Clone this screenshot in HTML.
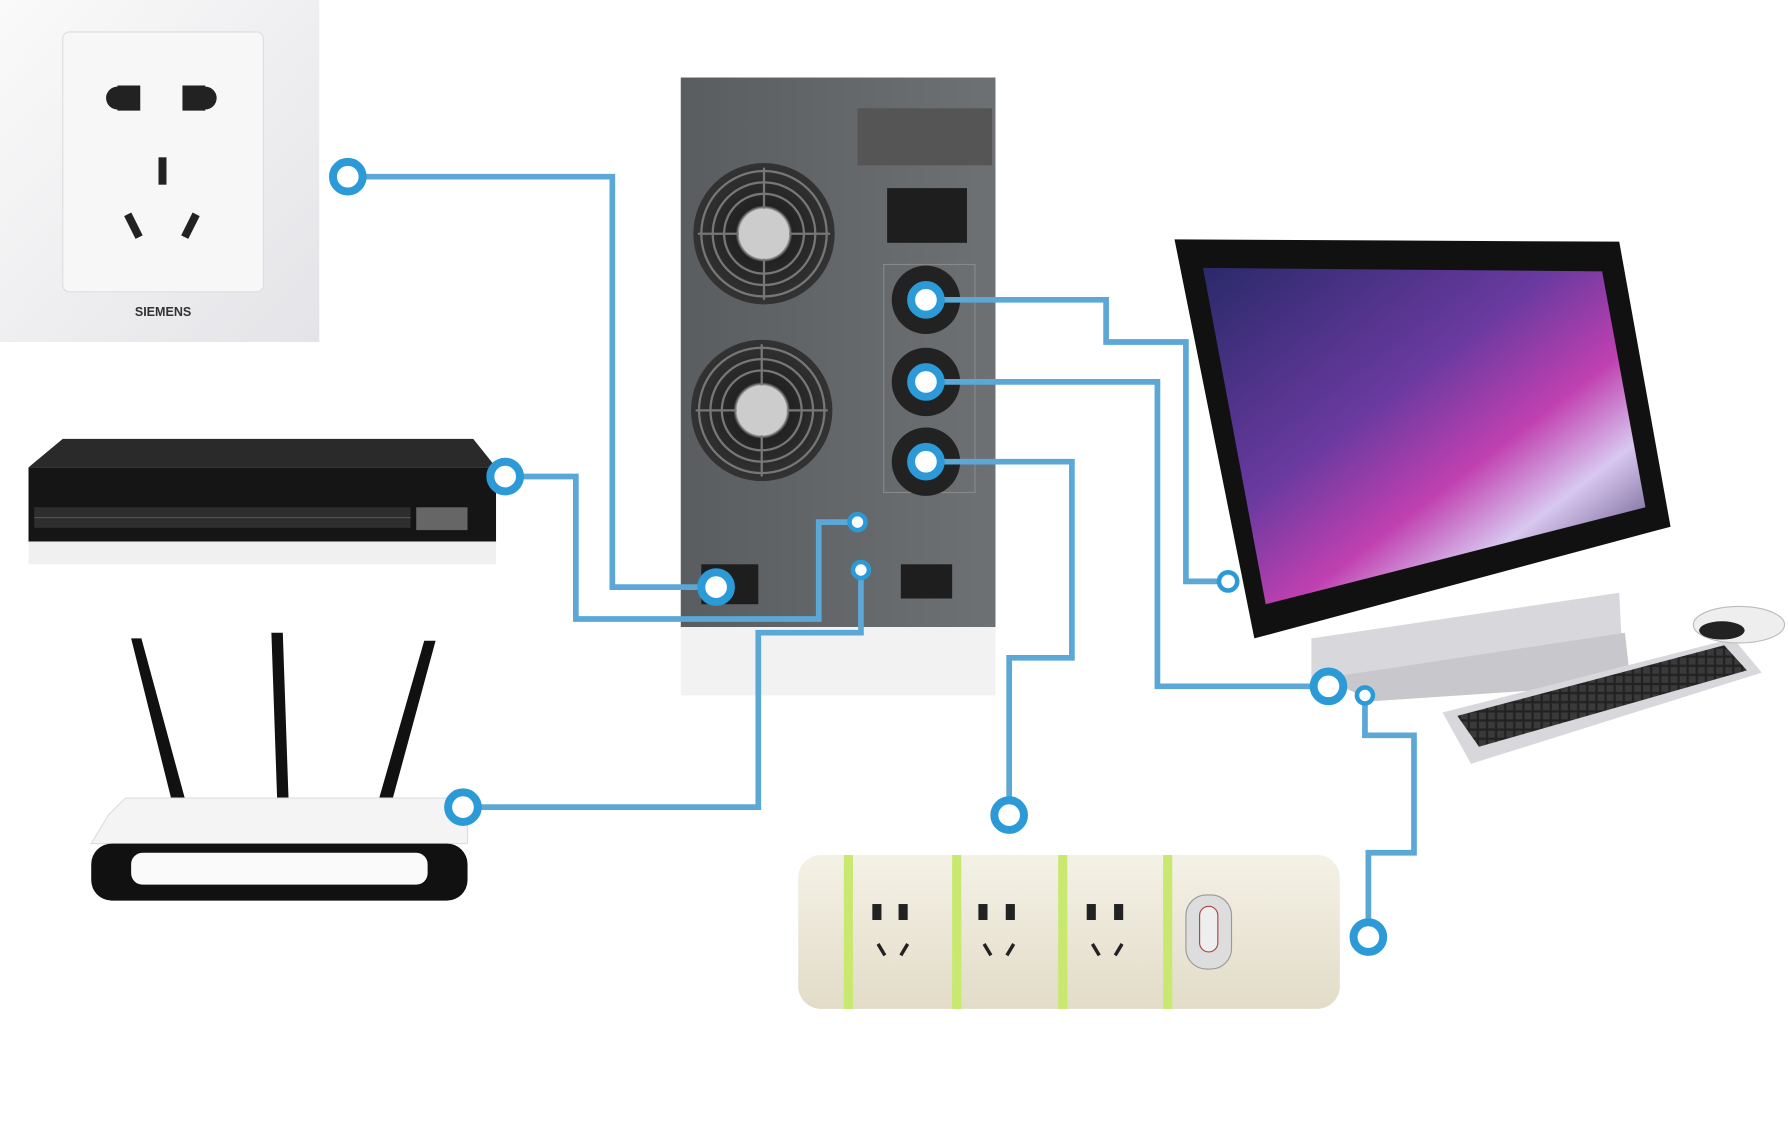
<!DOCTYPE html>
<html><head><meta charset="utf-8"><style>
html,body{margin:0;padding:0;background:#fff;}
svg{display:block}
</style></head><body>
<svg width="1788" height="1148" viewBox="0 0 1568 1007" preserveAspectRatio="none" xmlns="http://www.w3.org/2000/svg">
<defs>
<linearGradient id="plate" x1="0" y1="0" x2="1" y2="1"><stop offset="0" stop-color="#fafafa"/><stop offset="1" stop-color="#e4e4e8"/></linearGradient>
<linearGradient id="scr" x1="0" y1="0" x2="1" y2="1"><stop offset="0" stop-color="#2a2a6a"/><stop offset="0.4" stop-color="#6a3aa0"/><stop offset="0.6" stop-color="#c040b0"/><stop offset="0.75" stop-color="#d8c8f0"/><stop offset="1" stop-color="#2a1a50"/></linearGradient>
<linearGradient id="ups" x1="0" y1="0" x2="1" y2="0"><stop offset="0" stop-color="#5a5d60"/><stop offset="1" stop-color="#6e7174"/></linearGradient>
<linearGradient id="strip" x1="0" y1="0" x2="0" y2="1"><stop offset="0" stop-color="#f4f1e6"/><stop offset="1" stop-color="#e2dcc8"/></linearGradient>
<radialGradient id="fan"><stop offset="0" stop-color="#ddd"/><stop offset="0.35" stop-color="#bbb"/><stop offset="0.4" stop-color="#222"/><stop offset="1" stop-color="#333"/></radialGradient>
<pattern id="keys" width="8" height="8" patternUnits="userSpaceOnUse"><rect width="8" height="8" fill="#222"/><rect x="1" y="1" width="6" height="6" fill="#3a3a3a"/></pattern>
</defs>
<rect x="0" y="0" width="280" height="300" fill="url(#plate)"/>
<rect x="55" y="28" width="176" height="228" rx="6" fill="#f7f7f8" stroke="#ddd"/>
<path d="M103 75h20v22h-20z M160 75h20v22h-20z" fill="#222"/>
<circle cx="103" cy="86" r="10" fill="#222"/><circle cx="180" cy="86" r="10" fill="#222"/>
<rect x="139" y="138" width="7" height="24" fill="#222"/>
<path d="M112 188l10 20M172 188l-10 20" stroke="#222" stroke-width="7"/>
<text x="143" y="277" font-family="Liberation Sans,sans-serif" font-size="11" font-weight="bold" text-anchor="middle" fill="#333">SIEMENS</text>
<path d="M25 410L55 385H415L435 410Z" fill="#2a2a2a"/>
<rect x="25" y="410" width="410" height="65" fill="#151515"/>
<rect x="30" y="445" width="330" height="18" fill="#2e2e2e"/>
<g stroke="#555" stroke-width="1"><path d="M30 454H360"/></g>
<rect x="365" y="445" width="45" height="20" fill="#666"/>
<rect x="25" y="475" width="410" height="20" fill="#f0f0f0"/>
<path d="M115 560l35 140h12l-38-140z M238 555l5 145h10l-5-145z M372 562l-40 140h12l38-140z" fill="#111"/>
<path d="M95 715L110 700H395L410 720V740H80Z" fill="#f4f4f4" stroke="#ddd"/>
<rect x="80" y="740" width="330" height="50" rx="18" fill="#111"/>
<rect x="115" y="748" width="260" height="28" rx="10" fill="#fafafa"/>
<rect x="597" y="68" width="276" height="482" fill="url(#ups)"/>
<rect x="597" y="550" width="276" height="60" fill="#f2f2f2"/>
<rect x="752" y="95" width="118" height="50" fill="#555"/>
<g>
<circle cx="670" cy="205" r="62" fill="url(#fan)"/>
<circle cx="668" cy="360" r="62" fill="url(#fan)"/>
<g fill="none" stroke="#777" stroke-width="2">
<circle cx="670" cy="205" r="55"/><circle cx="670" cy="205" r="45"/><circle cx="670" cy="205" r="35"/>
<circle cx="668" cy="360" r="55"/><circle cx="668" cy="360" r="45"/><circle cx="668" cy="360" r="35"/>
<path d="M612 205H728M670 147V263M610 360H726M668 302V418"/>
</g>
<circle cx="670" cy="205" r="22" fill="#ccc"/><circle cx="668" cy="360" r="22" fill="#ccc"/>
</g>
<rect x="778" y="165" width="70" height="48" fill="#1e1e1e"/>
<rect x="775" y="232" width="80" height="200" fill="none" stroke="#888"/>
<circle cx="812" cy="263" r="30" fill="#222"/>
<circle cx="812" cy="335" r="30" fill="#222"/>
<circle cx="812" cy="405" r="30" fill="#222"/>
<rect x="790" y="495" width="45" height="30" fill="#1e1e1e"/>
<rect x="615" y="495" width="50" height="35" fill="#1e1e1e"/>
<path d="M1030 210L1420 212L1465 462L1100 560Z" fill="#111"/>
<path d="M1055 235L1405 238L1443 445L1110 530Z" fill="url(#scr)"/>
<path d="M1150 560L1420 520L1422 560L1150 600Z" fill="#d8d8dc"/>
<path d="M1160 595L1425 555L1430 600L1205 615Z" fill="#c8c8cc"/>
<path d="M1265 625L1520 560L1545 590L1290 670Z" fill="#d8d8dc"/>
<path d="M1278 628L1512 566L1532 588L1297 655Z" fill="url(#keys)"/>
<ellipse cx="1525" cy="548" rx="40" ry="16" fill="#eee" stroke="#bbb"/>
<ellipse cx="1510" cy="553" rx="20" ry="8" fill="#222"/>
<rect x="700" y="750" width="475" height="135" rx="20" fill="url(#strip)"/>
<rect x="740" y="750" width="8" height="135" fill="#c8e870"/>
<rect x="835" y="750" width="8" height="135" fill="#c8e870"/>
<rect x="928" y="750" width="8" height="135" fill="#c8e870"/>
<rect x="1020" y="750" width="8" height="135" fill="#c8e870"/>
<g fill="#222"><rect x="765" y="793" width="8" height="14"/><rect x="788" y="793" width="8" height="14"/><rect x="858" y="793" width="8" height="14"/><rect x="882" y="793" width="8" height="14"/><rect x="953" y="793" width="8" height="14"/><rect x="977" y="793" width="8" height="14"/></g>
<path d="M770 828l6 10M796 828l-6 10M863 828l6 10M889 828l-6 10M958 828l6 10M984 828l-6 10" stroke="#222" stroke-width="3"/>
<rect x="1040" y="785" width="40" height="65" rx="18" fill="#ddd" stroke="#999"/>
<rect x="1052" y="795" width="16" height="40" rx="8" fill="#eee" stroke="#a44"/>
<g fill="none" stroke="#5ba7d6" stroke-width="5" stroke-linejoin="miter">
<path d="M305 155H537V515H628"/>
<path d="M443 418H505V543H718V458H752"/>
<path d="M406 708H665V555H755V500"/>
<path d="M812 263H970V300H1040V510H1077"/>
<path d="M812 335H1015V602H1165"/>
<path d="M812 405H940V577H885V715"/>
<path d="M1197 610V645H1240V748H1200V822"/>
</g>
<g fill="#fff" stroke="#2b9ad6" stroke-width="7">
<circle cx="305" cy="155" r="13"/><circle cx="443" cy="418" r="13"/><circle cx="406" cy="708" r="13"/>
<circle cx="628" cy="515" r="13"/><circle cx="812" cy="263" r="13"/><circle cx="812" cy="335" r="13"/><circle cx="812" cy="405" r="13"/>
<circle cx="1165" cy="602" r="13"/><circle cx="885" cy="715" r="13"/><circle cx="1200" cy="822" r="13"/>
</g>
<g fill="#fff" stroke="#2b9ad6" stroke-width="4">
<circle cx="752" cy="458" r="7"/><circle cx="755" cy="500" r="7"/><circle cx="1077" cy="510" r="8"/><circle cx="1197" cy="610" r="7"/>
</g>
</svg>
</body></html>
